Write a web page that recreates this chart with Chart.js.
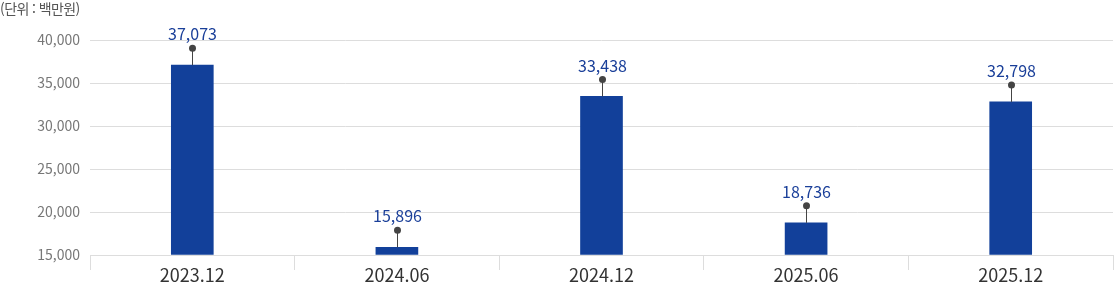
<!DOCTYPE html>
<html lang="ko">
<head>
<meta charset="utf-8">
<script src="https://cdn.jsdelivr.net/npm/chart.js@4/dist/chart.umd.min.js"></script>
<style>
    html, body { margin: 0; padding: 0; background: #fff; }
    #wrap { position: relative; width: 1114px; height: 283px; }
    #unit {
        position: absolute; left: 0; top: -2px;
        font-family: "Noto Sans CJK KR", "Noto Sans", sans-serif;
        font-size: 14px; color: #555; letter-spacing: -0.6px;
    }
</style>
</head>
<body>
<div id="wrap">
    <canvas id="chart" width="1114" height="283"></canvas>
    <div id="unit">(단위 : 백만원)</div>
</div>
<script>
// Données du graphique
const categories = ['2023.12', '2024.06', '2024.12', '2025.06', '2025.12'];
const values = [37073, 15896, 33438, 18736, 32798];
const yTicks = [15000, 20000, 25000, 30000, 35000, 40000];

const FONT = '"Noto Sans CJK KR", "Noto Sans", sans-serif';
const BAR_COLOR = '#12409a';
const LABEL_COLOR = '#1a3f99';

// Étiquettes de valeur avec trait et point au-dessus des barres
const leaderLabels = {
    id: 'leaderLabels',
    afterDatasetsDraw(chart) {
        const ctx = chart.ctx;
        const meta = chart.getDatasetMeta(0);
        ctx.save();
        meta.data.forEach((bar, i) => {
            const x = Math.round(bar.x) + 0.5;
            const top = bar.y;
            const dotY = top - 17;
            ctx.strokeStyle = '#444';
            ctx.lineWidth = 1;
            ctx.beginPath();
            ctx.moveTo(x, top);
            ctx.lineTo(x, dotY);
            ctx.stroke();
            ctx.fillStyle = '#444';
            ctx.beginPath();
            ctx.arc(x, dotY, 3.5, 0, Math.PI * 2);
            ctx.fill();
            ctx.fillStyle = LABEL_COLOR;
            ctx.font = '16px ' + FONT;
            ctx.textAlign = 'center';
            ctx.textBaseline = 'middle';
            ctx.fillText(values[i].toLocaleString('en-US'), x, dotY - 14);
        });
        ctx.restore();
    }
};

const ctx = document.getElementById('chart').getContext('2d');
const chart = new Chart(ctx, {
    type: 'bar',
    data: {
        labels: categories,
        datasets: [{
            data: values,
            backgroundColor: BAR_COLOR,
            barThickness: 42,
            base: 15000
        }]
    },
    options: {
        responsive: false,
        animation: false,
        layout: { padding: { top: 40, right: 1, left: 0, bottom: 0 } },
        plugins: {
            legend: { display: false },
            tooltip: { enabled: false }
        },
        scales: {
            x: {
                offset: true,
                grid: {
                    offset: true,
                    drawOnChartArea: false,
                    drawTicks: true,
                    tickLength: 15,
                    color: '#ddd'
                },
                border: { display: true, color: '#ddd' },
                ticks: {
                    color: '#333',
                    padding: -6,
                    font: { family: FONT, size: 18, lineHeight: 1.2 }
                },
                afterFit(scale) { scale.height = 28; }
            },
            y: {
                min: yTicks[0],
                max: yTicks[yTicks.length - 1],
                afterBuildTicks(scale) {
                    scale.ticks = yTicks.map(v => ({ value: v }));
                },
                grid: { color: '#ddd', drawTicks: false },
                border: { display: false },
                ticks: {
                    color: '#777',
                    padding: 10,
                    font: { family: FONT, size: 14 },
                    callback: v => v.toLocaleString('en-US')
                },
                afterFit(scale) { scale.width = 90; }
            }
        }
    },
    plugins: [leaderLabels]
});
</script>
</body>
</html>
